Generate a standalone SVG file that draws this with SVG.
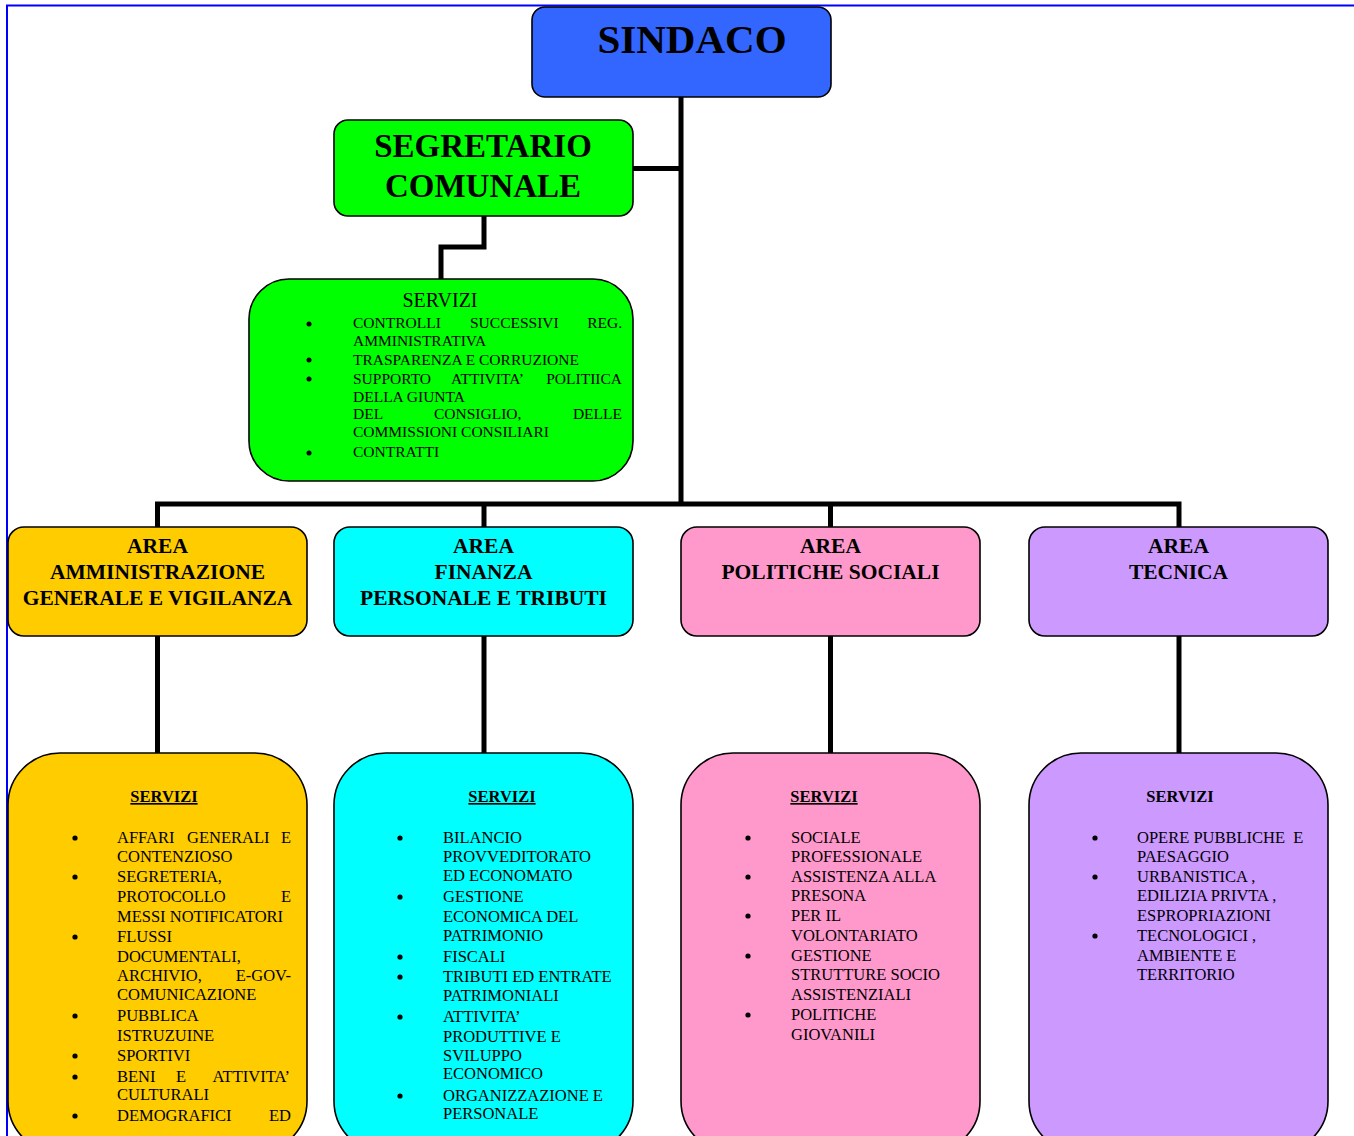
<svg xmlns="http://www.w3.org/2000/svg" width="1354" height="1136" viewBox="0 0 1354 1136">
<style>
.box{stroke:#000;stroke-width:1.6}
.conn{fill:none;stroke:#000;stroke-width:5}
.title{font-family:"Liberation Serif","Times New Roman",serif;font-weight:bold;text-anchor:middle;fill:#000}
.area{font-family:"Liberation Serif","Times New Roman",serif;font-weight:bold;font-size:21.5px;text-anchor:middle;fill:#000}
.lst{font-family:"Liberation Serif","Times New Roman",serif;font-size:16.5px;fill:#000}
.lsts{font-family:"Liberation Serif","Times New Roman",serif;font-size:15.5px;fill:#000}
.hdr{font-family:"Liberation Serif","Times New Roman",serif;font-weight:bold;font-size:16.5px;text-anchor:middle;fill:#000}
.e{text-anchor:end}
</style>
<rect width="1354" height="1136" fill="#fff"/>
<g id="frame">
<line x1="6" y1="5.5" x2="1354" y2="5.5" stroke="#0000ff" stroke-width="2"/>
<line x1="7" y1="5" x2="7" y2="1136" stroke="#0000ff" stroke-width="2"/>
</g>
<g id="connectors">
<line class="conn" x1="681" y1="97" x2="681" y2="506"/>
<line class="conn" x1="633" y1="168.5" x2="681" y2="168.5"/>
<polyline class="conn" points="484,216 484,247 441,247 441,279"/>
<polyline class="conn" points="157.5,527 157.5,504 1179,504 1179,527"/>
<line class="conn" x1="484" y1="504" x2="484" y2="527"/>
<line class="conn" x1="830.5" y1="504" x2="830.5" y2="527"/>
<line class="conn" x1="157.5" y1="636" x2="157.5" y2="753"/>
<line class="conn" x1="484" y1="636" x2="484" y2="753"/>
<line class="conn" x1="830.5" y1="636" x2="830.5" y2="753"/>
<line class="conn" x1="1179" y1="636" x2="1179" y2="753"/>
</g>
<g id="sindaco">
<rect class="box" x="532" y="7" width="299" height="90" rx="13" fill="#3366ff"/>
<text class="title" x="692" y="53" font-size="41">SINDACO</text>
</g>
<g id="segretario">
<rect class="box" x="334" y="120" width="299" height="96" rx="14" fill="#00ff00"/>
<text class="title" x="483" y="157" font-size="33">SEGRETARIO</text>
<text class="title" x="483" y="197" font-size="33">COMUNALE</text>
</g>
<g id="servizi-segretario">
<rect class="box" x="249" y="279" width="384" height="202" rx="40" fill="#00ff00"/>
<text x="440" y="307" font-family="Liberation Serif, Times New Roman, serif" font-size="20" text-anchor="middle">SERVIZI</text>
<g fill="#000"><circle cx="309" cy="324" r="2.5"/><circle cx="309" cy="360" r="2.5"/><circle cx="309" cy="379" r="2.5"/><circle cx="309" cy="453" r="2.5"/></g>
<text class="lsts" y="328"><tspan x="353">CONTROLLI</tspan><tspan x="470">SUCCESSIVI</tspan><tspan x="622" class="e">REG.</tspan></text>
<text class="lsts" x="353" y="346">AMMINISTRATIVA</text>
<text class="lsts" x="353" y="365">TRASPARENZA E CORRUZIONE</text>
<text class="lsts" y="384"><tspan x="353">SUPPORTO</tspan><tspan x="451">ATTIVITA’</tspan><tspan x="622" class="e">POLITIICA</tspan></text>
<text class="lsts" x="353" y="402">DELLA GIUNTA</text>
<text class="lsts" y="419"><tspan x="353">DEL</tspan><tspan x="434">CONSIGLIO,</tspan><tspan x="622" class="e">DELLE</tspan></text>
<text class="lsts" x="353" y="437">COMMISSIONI CONSILIARI</text>
<text class="lsts" x="353" y="457">CONTRATTI</text>
</g>
<g id="area-amministrazione">
<rect class="box" x="8" y="527" width="299" height="109" rx="16" fill="#ffcc00"/>
<text class="area" x="157.5" y="553">AREA</text>
<text class="area" x="157.5" y="579">AMMINISTRAZIONE</text>
<text class="area" x="157.5" y="605">GENERALE E VIGILANZA</text>
</g>
<g id="area-finanza">
<rect class="box" x="334" y="527" width="299" height="109" rx="16" fill="#00ffff"/>
<text class="area" x="483.5" y="553">AREA</text>
<text class="area" x="483.5" y="579">FINANZA</text>
<text class="area" x="483.5" y="605">PERSONALE E TRIBUTI</text>
</g>
<g id="area-sociali">
<rect class="box" x="681" y="527" width="299" height="109" rx="16" fill="#ff99cc"/>
<text class="area" x="830.5" y="553">AREA</text>
<text class="area" x="830.5" y="579">POLITICHE SOCIALI</text>
</g>
<g id="area-tecnica">
<rect class="box" x="1029" y="527" width="299" height="109" rx="16" fill="#cc99ff"/>
<text class="area" x="1178.5" y="553">AREA</text>
<text class="area" x="1178.5" y="579">TECNICA</text>
</g>
<g id="servizi-amministrazione">
<rect class="box" x="8" y="753" width="299" height="400" rx="52" fill="#ffcc00"/>
<text class="hdr" x="164" y="802" text-decoration="underline">SERVIZI</text>
<g fill="#000"><circle cx="75" cy="838" r="2.6"/><circle cx="75" cy="877" r="2.6"/><circle cx="75" cy="937" r="2.6"/><circle cx="75" cy="1016" r="2.6"/><circle cx="75" cy="1056" r="2.6"/><circle cx="75" cy="1077" r="2.6"/><circle cx="75" cy="1116" r="2.6"/></g>
<text class="lst" y="843"><tspan x="117">AFFARI</tspan><tspan x="187">GENERALI</tspan><tspan x="291" class="e">E</tspan></text>
<text class="lst" x="117" y="862">CONTENZIOSO</text>
<text class="lst" x="117" y="882">SEGRETERIA,</text>
<text class="lst" y="902"><tspan x="117">PROTOCOLLO</tspan><tspan x="291" class="e">E</tspan></text>
<text class="lst" x="117" y="922">MESSI NOTIFICATORI</text>
<text class="lst" x="117" y="942">FLUSSI</text>
<text class="lst" x="117" y="962">DOCUMENTALI,</text>
<text class="lst" y="981"><tspan x="117">ARCHIVIO,</tspan><tspan x="291" class="e">E-GOV-</tspan></text>
<text class="lst" x="117" y="1000">COMUNICAZIONE</text>
<text class="lst" x="117" y="1021">PUBBLICA</text>
<text class="lst" x="117" y="1041">ISTRUZUINE</text>
<text class="lst" x="117" y="1061">SPORTIVI</text>
<text class="lst" y="1082"><tspan x="117">BENI</tspan><tspan x="176">E</tspan><tspan x="290" class="e">ATTIVITA’</tspan></text>
<text class="lst" x="117" y="1100">CULTURALI</text>
<text class="lst" y="1121"><tspan x="117">DEMOGRAFICI</tspan><tspan x="291" class="e">ED</tspan></text>
</g>
<g id="servizi-finanza">
<rect class="box" x="334" y="753" width="299" height="400" rx="52" fill="#00ffff"/>
<text class="hdr" x="502" y="802" text-decoration="underline">SERVIZI</text>
<g fill="#000"><circle cx="400" cy="838" r="2.6"/><circle cx="400" cy="897" r="2.6"/><circle cx="400" cy="957" r="2.6"/><circle cx="400" cy="977" r="2.6"/><circle cx="400" cy="1017" r="2.6"/><circle cx="400" cy="1096" r="2.6"/></g>
<text class="lst" x="443" y="843">BILANCIO</text>
<text class="lst" x="443" y="862">PROVVEDITORATO</text>
<text class="lst" x="443" y="881">ED ECONOMATO</text>
<text class="lst" x="443" y="902">GESTIONE</text>
<text class="lst" x="443" y="922">ECONOMICA DEL</text>
<text class="lst" x="443" y="941">PATRIMONIO</text>
<text class="lst" x="443" y="962">FISCALI</text>
<text class="lst" x="443" y="982">TRIBUTI ED ENTRATE</text>
<text class="lst" x="443" y="1001">PATRIMONIALI</text>
<text class="lst" x="443" y="1022">ATTIVITA’</text>
<text class="lst" x="443" y="1042">PRODUTTIVE E</text>
<text class="lst" x="443" y="1061">SVILUPPO</text>
<text class="lst" x="443" y="1079">ECONOMICO</text>
<text class="lst" x="443" y="1101">ORGANIZZAZIONE E</text>
<text class="lst" x="443" y="1119">PERSONALE</text>
</g>
<g id="servizi-sociali">
<rect class="box" x="681" y="753" width="299" height="400" rx="52" fill="#ff99cc"/>
<text class="hdr" x="824" y="802" text-decoration="underline">SERVIZI</text>
<g fill="#000"><circle cx="748" cy="838" r="2.6"/><circle cx="748" cy="877" r="2.6"/><circle cx="748" cy="916" r="2.6"/><circle cx="748" cy="956" r="2.6"/><circle cx="748" cy="1015" r="2.6"/></g>
<text class="lst" x="791" y="843">SOCIALE</text>
<text class="lst" x="791" y="862">PROFESSIONALE</text>
<text class="lst" x="791" y="882">ASSISTENZA ALLA</text>
<text class="lst" x="791" y="901">PRESONA</text>
<text class="lst" x="791" y="921">PER IL</text>
<text class="lst" x="791" y="941">VOLONTARIATO</text>
<text class="lst" x="791" y="961">GESTIONE</text>
<text class="lst" x="791" y="980">STRUTTURE SOCIO</text>
<text class="lst" x="791" y="1000">ASSISTENZIALI</text>
<text class="lst" x="791" y="1020">POLITICHE</text>
<text class="lst" x="791" y="1040">GIOVANILI</text>
</g>
<g id="servizi-tecnica">
<rect class="box" x="1029" y="753" width="299" height="400" rx="52" fill="#cc99ff"/>
<text class="hdr" x="1180" y="802">SERVIZI</text>
<g fill="#000"><circle cx="1095" cy="838" r="2.6"/><circle cx="1095" cy="877" r="2.6"/><circle cx="1095" cy="936" r="2.6"/></g>
<text class="lst" x="1137" y="843" xml:space="preserve">OPERE PUBBLICHE  E</text>
<text class="lst" x="1137" y="862">PAESAGGIO</text>
<text class="lst" x="1137" y="882">URBANISTICA ,</text>
<text class="lst" x="1137" y="901">EDILIZIA PRIVTA ,</text>
<text class="lst" x="1137" y="921">ESPROPRIAZIONI</text>
<text class="lst" x="1137" y="941">TECNOLOGICI ,</text>
<text class="lst" x="1137" y="961">AMBIENTE E</text>
<text class="lst" x="1137" y="980">TERRITORIO</text>
</g>
</svg>
